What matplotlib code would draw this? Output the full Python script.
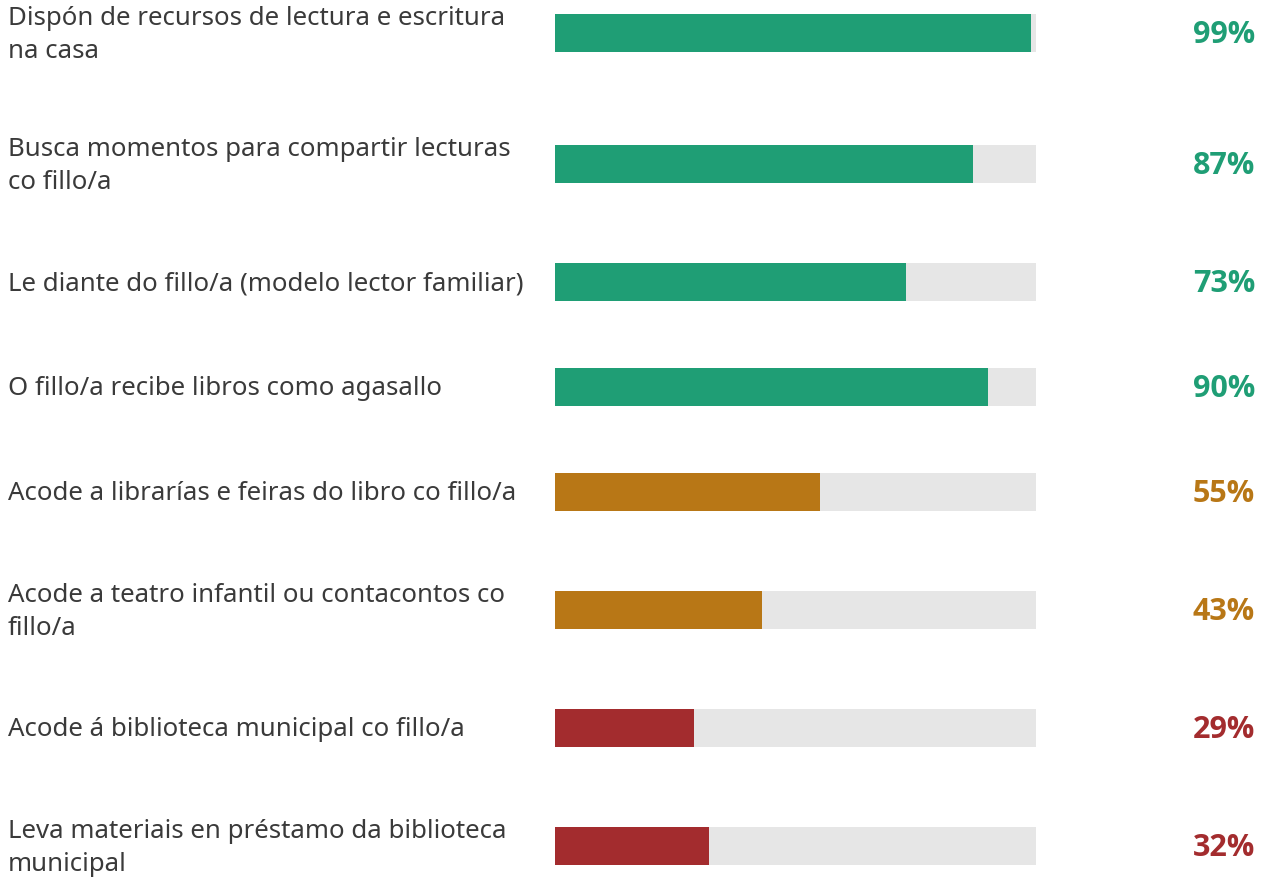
import numpy as np
import matplotlib
matplotlib.use('Agg')
import matplotlib.pyplot as plt
import matplotlib.transforms as mtransforms

labels = [
    'Dispón de recursos de lectura e escritura\nna casa',
    'Busca momentos para compartir lecturas\nco fillo/a',
    'Le diante do fillo/a (modelo lector familiar)',
    'O fillo/a recibe libros como agasallo',
    'Acode a librarías e feiras do libro co fillo/a',
    'Acode a teatro infantil ou contacontos co\nfillo/a',
    'Acode á biblioteca municipal co fillo/a',
    'Leva materiais en préstamo da biblioteca\nmunicipal',
]
values = [99, 87, 73, 90, 55, 43, 29, 32]
groups = ['high', 'high', 'high', 'high', 'mid', 'mid', 'low', 'low']

colors = {'high': '#1f9e75', 'mid': '#b87716', 'low': '#a32c2e'}
track = '#e6e6e6'
text_col = '#3a3a3a'

W, H = 1268, 879
fig = plt.figure(figsize=(W / 100, H / 100), dpi=100)
ax = fig.add_axes([555 / W, 0, (1036 - 555) / W, 1])

# row heights depend on how many lines the label has
row_h = [105 + 26 * (lab.count('\n')) for lab in labels]
centers = []
y = 34
for i, h in enumerate(row_h):
    if i > 0:
        y += (row_h[i - 1] + h) / 2
    centers.append(y)
centers = np.array(centers)

bar_h = 38
ax.barh(centers, [100] * len(values), height=bar_h, color=track, linewidth=0)
ax.barh(centers, values, height=bar_h, color=[colors[g] for g in groups], linewidth=0)
ax.set_xlim(0, 100)
ax.set_ylim(H, 0)
ax.axis('off')

trans = mtransforms.blended_transform_factory(fig.transFigure, ax.transData)
for c, lab, v, g in zip(centers, labels, values, groups):
    ax.text(8 / W, c + 1, lab, transform=trans, ha='left', va='center',
            fontsize=18.6, color=text_col, family='Noto Sans', linespacing=1.4)
    ax.text(1255 / W, c + 1, f'{v}%', transform=trans, ha='right', va='center',
            fontsize=22, fontweight='bold', color=colors[g], family='Open Sans')

fig.savefig('out.png', dpi=100)
